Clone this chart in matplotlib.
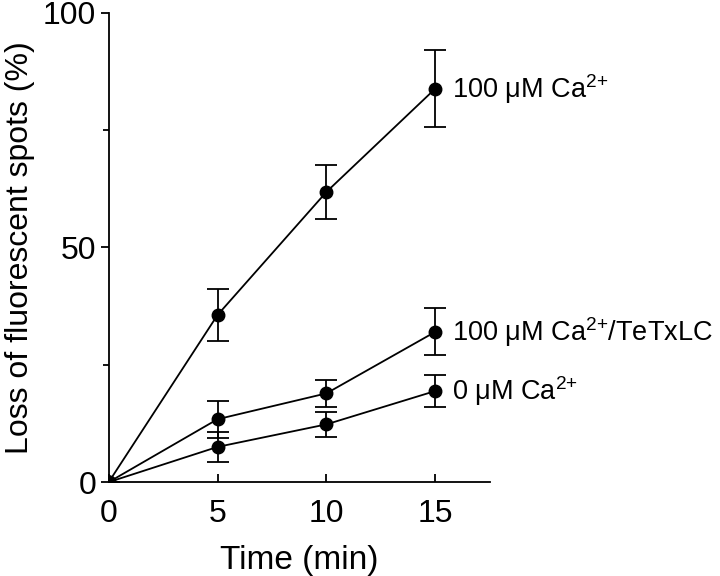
import matplotlib
matplotlib.use('Agg')
import matplotlib.pyplot as plt
from matplotlib.ticker import MultipleLocator

plt.rcParams['font.family'] = ['Liberation Sans', 'DejaVu Sans']
plt.rcParams['mathtext.fontset'] = 'custom'
plt.rcParams['mathtext.rm'] = 'Liberation Sans'
plt.rcParams['mathtext.it'] = 'Liberation Sans'

# time points (min)
time = [0, 5, 10, 15]

# loss of fluorescent spots (%) and error bars
ca100 = [0, 35.6, 61.8, 83.8]
ca100_err = [0, 5.6, 5.7, 8.2]
ca100_tetx = [0, 13.4, 18.9, 32.0]
ca100_tetx_err = [0, 3.9, 2.8, 5.0]
ca0 = [0, 7.5, 12.3, 19.4]
ca0_err = [0, 3.2, 2.7, 3.4]

labels = [r'100 μM Ca$^{2{+}}$', r'100 μM Ca$^{2{+}}$/TeTxLC', r'0 μM Ca$^{2{+}}$']

fig = plt.figure(figsize=(7.2, 5.76), dpi=100)
ax = fig.add_axes([0.151, 0.163, 0.529, 0.815])

series = [(ca100, ca100_err), (ca100_tetx, ca100_tetx_err), (ca0, ca0_err)]
for (vals, errs), lab in zip(series, labels):
    ax.errorbar(time, vals, yerr=errs, color='black', marker='o', markersize=9,
                linewidth=1.3, elinewidth=1.3, capsize=8, capthick=1.3)
    ax.text(time[-1] + 0.75, vals[-1], lab, fontsize=19.5, va='center', ha='left',
            clip_on=False)

ax.set_xlim(0, 17.5)
ax.set_ylim(0, 100)
ax.set_xticks([0, 5, 10, 15])
ax.set_yticks([0, 50, 100])
ax.yaxis.set_minor_locator(MultipleLocator(25))
ax.spines['top'].set_visible(False)
ax.spines['right'].set_visible(False)
ax.spines['left'].set_linewidth(1.3)
ax.spines['bottom'].set_linewidth(1.3)
ax.tick_params(axis='x', direction='in', length=6, width=1.3, pad=12, labelsize=23)
ax.tick_params(axis='y', direction='out', length=6, width=1.3, pad=3, labelsize=23)
ax.tick_params(axis='y', which='minor', direction='out', length=4, width=1.3)

ax.set_xlabel('Time (min)', fontsize=24, labelpad=12)
ax.set_ylabel('Loss of fluorescent spots (%)', fontsize=23, labelpad=6)

plt.savefig('out.png', dpi=100)
